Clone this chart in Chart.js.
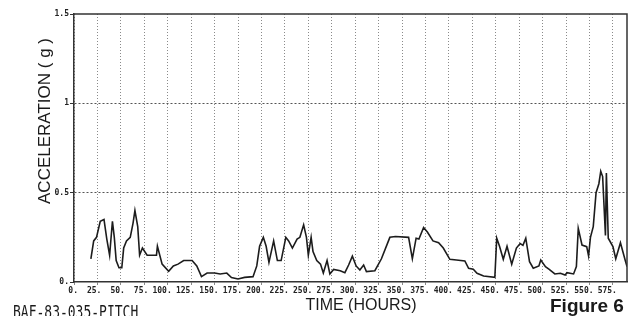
<!DOCTYPE html>
<html>
<head>
<meta charset="utf-8">
<script src="https://cdn.jsdelivr.net/npm/chart.js@4.4.1/dist/chart.umd.min.js"></script>
<style>
  html, body { margin: 0; padding: 0; background: #fff; }
  #wrap { width: 633px; height: 316px; }
</style>
</head>
<body>
<div id="wrap"><canvas id="accChart" width="633" height="316"></canvas></div>
<script>
// ── DATA ────────────────────────────────────────────────
const hours = [
  18, 21, 24, 28, 32, 35, 38, 41, 43, 45, 48, 51, 53, 56, 60, 63, 65, 68, 70, 73,
  78, 88, 89, 94, 101, 106, 111, 117, 126, 131, 136, 142, 145, 150, 156, 163, 168, 175, 182, 191,
  195, 198, 202, 205, 208, 213, 217, 221, 226, 229, 233, 238, 241, 245, 248, 250, 253, 255, 259, 263,
  266, 270, 273, 277, 284, 289, 293, 297, 301, 305, 309, 312, 321, 328, 337, 343, 357, 359, 361, 365,
  368, 373, 377, 383, 389, 394, 401, 408, 417, 421, 426, 430, 437, 449, 451, 454, 458, 462, 467, 472,
  476, 479, 482, 486, 490, 496, 498, 503, 507, 513, 519, 524, 526, 533, 536, 538, 542, 547, 549, 551,
  554, 557, 560, 562, 564, 567, 568, 570, 575, 578, 583, 588, 590
];
const accel = [
  0.13, 0.23, 0.25, 0.34, 0.35, 0.24, 0.15, 0.34, 0.25, 0.12, 0.08, 0.08, 0.19, 0.23, 0.25, 0.33, 0.40, 0.31, 0.15, 0.19,
  0.15, 0.15, 0.20, 0.10, 0.06, 0.09, 0.10, 0.12, 0.12, 0.09, 0.03, 0.05, 0.05, 0.05, 0.045, 0.05, 0.025, 0.017, 0.026, 0.03,
  0.09, 0.20, 0.25, 0.20, 0.11, 0.23, 0.12, 0.12, 0.25, 0.23, 0.19, 0.24, 0.25, 0.32, 0.25, 0.15, 0.25, 0.17, 0.12, 0.10,
  0.05, 0.12, 0.045, 0.07, 0.063, 0.052, 0.095, 0.145, 0.09, 0.067, 0.095, 0.058, 0.063, 0.13, 0.25, 0.255, 0.25, 0.19, 0.13, 0.245,
  0.24, 0.305, 0.28, 0.23, 0.22, 0.19, 0.127, 0.123, 0.118, 0.077, 0.071, 0.049, 0.034, 0.026, 0.245, 0.20, 0.127, 0.20, 0.10, 0.19,
  0.215, 0.205, 0.245, 0.114, 0.077, 0.09, 0.123, 0.086, 0.071, 0.045, 0.049, 0.039, 0.052, 0.045, 0.086, 0.30, 0.207, 0.198, 0.146, 0.25,
  0.31, 0.50, 0.55, 0.62, 0.59, 0.26, 0.61, 0.245, 0.198, 0.13, 0.22, 0.123, 0.086
];

// tick positions / labels
const xTickValues = [0, 25, 50, 75, 100, 125, 150, 175, 200, 225, 250, 275,
                     300, 325, 350, 375, 400, 425, 450, 475, 500, 525, 550, 575];
const yTickValues = [0, 0.5, 1, 1.5];
const yTickLabels = ['0.', '0.5', '1', '1.5'];

// ── PLUGIN: white page, frame and the loose texts ───────
const pageDecor = {
  id: 'pageDecor',
  beforeDraw(chart) {
    const ctx = chart.ctx;
    ctx.save();
    ctx.fillStyle = '#ffffff';
    ctx.fillRect(0, 0, chart.width, chart.height);
    ctx.restore();
  },
  afterDraw(chart) {
    const ctx = chart.ctx;
    const a = chart.chartArea;
    ctx.save();

    // top and right edges of the plot frame
    ctx.strokeStyle = '#333';
    ctx.lineWidth = 1.5;
    ctx.beginPath();
    ctx.moveTo(a.left, a.top);
    ctx.lineTo(a.right, a.top);
    ctx.lineTo(a.right, a.bottom);
    ctx.stroke();

    ctx.fillStyle = '#1a1a1a';

    // y axis title (rotated)
    ctx.save();
    ctx.translate(45, 121);
    ctx.rotate(-Math.PI / 2);
    ctx.font = '17px "Liberation Sans", Arial, sans-serif';
    ctx.textAlign = 'center';
    ctx.textBaseline = 'middle';
    ctx.fillText('ACCELERATION ( g )', 0, 0);
    ctx.restore();

    // x axis title
    ctx.font = '16px "Liberation Sans", Arial, sans-serif';
    ctx.textAlign = 'center';
    ctx.textBaseline = 'middle';
    ctx.fillText('TIME (HOURS)', 361, 306);

    // figure number
    ctx.font = 'bold 19px "Liberation Sans", Arial, sans-serif';
    ctx.textAlign = 'left';
    ctx.textBaseline = 'alphabetic';
    ctx.fillText('Figure 6', 550, 312);

    // run id, cut off by the bottom edge like the scan
    ctx.save();
    ctx.translate(13, 305);
    ctx.scale(1, 1.35);
    ctx.font = '13px "DejaVu Sans Mono", monospace';
    ctx.textBaseline = 'top';
    ctx.fillText('BAF-83-035-PITCH', 0, 0);
    ctx.restore();

    ctx.restore();
  }
};

// ── BUILD CHART ─────────────────────────────────────────
function buildChart() {
  const points = hours.map((h, i) => ({ x: h, y: accel[i] }));
  const ctx = document.getElementById('accChart').getContext('2d');

  new Chart(ctx, {
    type: 'line',
    data: {
      datasets: [{
        data: points,
        borderColor: '#1c1c1c',
        borderWidth: 1.6,
        pointRadius: 0,
        tension: 0,
        fill: false
      }]
    },
    options: {
      responsive: false,
      animation: false,
      events: [],
      layout: { padding: { top: 14, right: 6, bottom: 0, left: 0 } },
      plugins: { legend: { display: false }, tooltip: { enabled: false } },
      scales: {
        x: {
          type: 'linear',
          min: 0,
          max: 590,
          afterFit: s => { s.height = 34; },
          afterBuildTicks: s => { s.ticks = xTickValues.map(v => ({ value: v })); },
          ticks: {
            autoSkip: false,
            maxRotation: 0,
            align: 'end',
            labelOffset: 4,
            padding: 1,
            color: '#222',
            font: { family: 'DejaVu Sans Mono', size: 8, weight: 'bold' },
            callback: v => v + '.'
          },
          grid: { color: '#8a8a8a', lineWidth: 1, tickLength: 3 },
          border: { display: true, color: '#333', width: 1.5, dash: [1, 2] }
        },
        y: {
          min: 0,
          max: 1.5,
          afterFit: s => { s.width = 74; },
          afterBuildTicks: s => { s.ticks = yTickValues.map(v => ({ value: v })); },
          ticks: {
            padding: 1,
            color: '#222',
            font: { family: 'DejaVu Sans Mono', size: 8, weight: 'bold' },
            callback: v => yTickLabels[yTickValues.indexOf(v)]
          },
          grid: {
            color: c => (c.tick && (c.tick.value === 0.5 || c.tick.value === 1)) ? '#555' : 'rgba(0,0,0,0)',
            lineWidth: 1,
            tickLength: 4,
            tickColor: '#333'
          },
          border: { display: true, color: '#333', width: 1.5, dash: [2, 2] }
        }
      }
    },
    plugins: [pageDecor]
  });
}

window.onload = buildChart;
</script>
</body>
</html>
